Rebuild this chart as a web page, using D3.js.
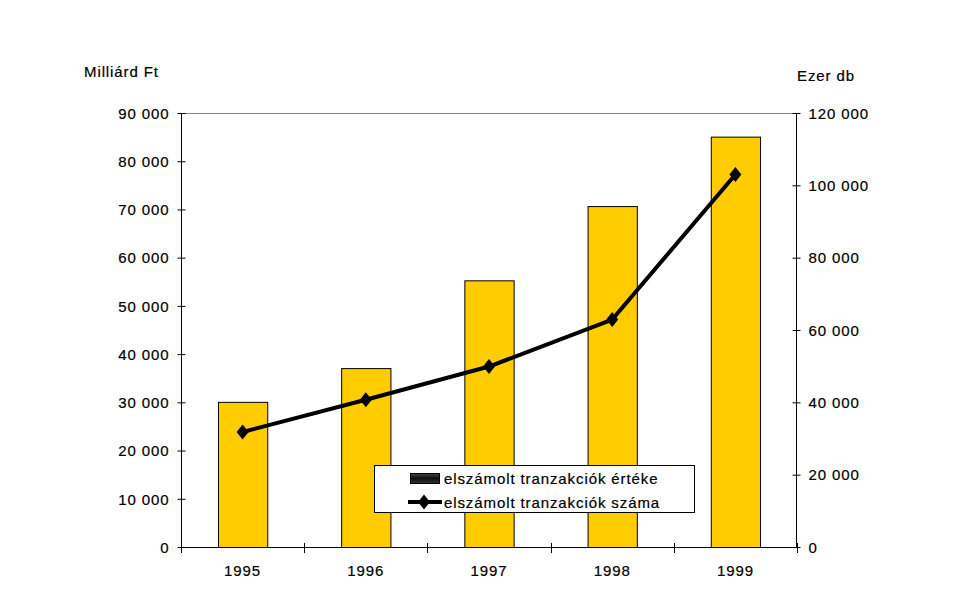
<!DOCTYPE html>
<html>
<head>
<meta charset="utf-8">
<title>Elszámolt tranzakciók</title>
<style>
  body { margin: 0; background: #fff; }
  svg text {
    font-family: "Liberation Sans", Arial, sans-serif; font-size: 15px; fill: #000;
    letter-spacing: 0.9px; stroke: #000; stroke-width: 0.2px;
  }
</style>
</head>
<body>
<svg id="chart"></svg>
<script src="https://cdn.jsdelivr.net/npm/d3@7/dist/d3.min.js"></script>
<script>
// data
var years = ["1995", "1996", "1997", "1998", "1999"];
var ertek = [30100, 37100, 55300, 70700, 85100];    // Milliárd Ft (bars, left axis)
var szama = [31800, 40700, 49900, 62900, 103000];   // Ezer db (line, right axis)
var leftTicks = [0, 10000, 20000, 30000, 40000, 50000, 60000, 70000, 80000, 90000];
var rightTicks = [0, 20000, 40000, 60000, 80000, 100000, 120000];
var legendLabels = ["elszámolt tranzakciók értéke", "elszámolt tranzakciók száma"];

var W = 977, H = 600;
var pLeft = 181, pRight = 797, pTop = 113, pBottom = 547;

var svg = d3.select("#chart").attr("width", W).attr("height", H);

var x = d3.scaleBand().domain(years).range([pLeft, pRight]).paddingInner(0.6).paddingOuter(0.3);
var band = d3.scaleBand().domain(years).range([pLeft, pRight]);
var yL = d3.scaleLinear().domain([0, 90000]).range([pBottom, pTop]);
var yR = d3.scaleLinear().domain([0, 120000]).range([pBottom, pTop]);

var fmt = function(v) { return d3.format(",")(v).replace(/,/g, " "); };

// top border of plot area
svg.append("line")
   .attr("x1", pLeft).attr("x2", pRight).attr("y1", pTop + 0.5).attr("y2", pTop + 0.5)
   .style("stroke", "#808080").style("stroke-width", 1);

// bars
svg.selectAll("rect.bar")
   .data(years)
   .enter().append("rect")
   .attr("class", "bar")
   .attr("x", function(d) { return x(d) + 0.5; })
   .attr("y", function(d, i) { return yL(ertek[i]) + 0.5; })
   .attr("width", x.bandwidth())
   .attr("height", function(d, i) { return pBottom - yL(ertek[i]); })
   .style("fill", "#FFCC00")
   .style("stroke", "#000")
   .style("stroke-width", 1);

// left axis
var axL = svg.append("g").attr("transform", "translate(" + (pLeft + 0.5) + ",0)")
   .call(d3.axisLeft(yL).tickValues(leftTicks).tickSize(4).tickPadding(8).tickFormat(fmt));
axL.select(".domain").remove();
axL.append("line").attr("y1", pTop).attr("y2", pBottom).style("stroke", "#000");
axL.selectAll(".tick line").attr("x1", 4).attr("x2", -4).style("stroke", "#000");
axL.selectAll(".tick text").style("font-size", "15px").attr("dy", "0.35em");

// right axis
var axR = svg.append("g").attr("transform", "translate(" + (pRight - 0.5) + ",0)")
   .call(d3.axisRight(yR).tickValues(rightTicks).tickSize(4).tickPadding(8).tickFormat(fmt));
axR.select(".domain").remove();
axR.append("line").attr("y1", pTop).attr("y2", pBottom).style("stroke", "#000");
axR.selectAll(".tick line").attr("x1", -4).attr("x2", 4).style("stroke", "#000");
axR.selectAll(".tick text").style("font-size", "15px").attr("dy", "0.35em");

// bottom axis: ticks at category boundaries, labels centred
svg.append("line").attr("x1", pLeft).attr("x2", pRight)
   .attr("y1", pBottom + 0.5).attr("y2", pBottom + 0.5).style("stroke", "#000");
var bounds = years.map(function(d) { return band(d); }).concat([pRight]);
svg.selectAll("line.xtick")
   .data(bounds)
   .enter().append("line")
   .attr("class", "xtick")
   .attr("x1", function(d) { return Math.round(d) + 0.5; })
   .attr("x2", function(d) { return Math.round(d) + 0.5; })
   .attr("y1", pBottom - 4).attr("y2", pBottom + 6)
   .style("stroke", "#000");
svg.selectAll("text.year")
   .data(years)
   .enter().append("text")
   .attr("class", "year")
   .attr("x", function(d) { return band(d) + band.bandwidth() / 2; })
   .attr("y", pBottom + 29)
   .attr("text-anchor", "middle")
   .text(function(d) { return d; });

// line series
var line = d3.line()
   .x(function(d, i) { return band(years[i]) + band.bandwidth() / 2; })
   .y(function(d) { return yR(d); });
svg.append("path")
   .datum(szama)
   .attr("d", line)
   .style("fill", "none")
   .style("stroke", "#000")
   .style("stroke-width", 4)
   .style("stroke-linejoin", "round");

// diamond marker, a bit taller than wide
var diamondType = {
  draw: function(ctx) {
    ctx.moveTo(0, -7.5); ctx.lineTo(6, 0); ctx.lineTo(0, 7.5); ctx.lineTo(-6, 0); ctx.closePath();
  }
};
var diamond = d3.symbol().type(diamondType);
svg.selectAll("path.mark")
   .data(szama)
   .enter().append("path")
   .attr("class", "mark")
   .attr("d", diamond)
   .attr("transform", function(d, i) {
      return "translate(" + (band(years[i]) + band.bandwidth() / 2) + "," + yR(d) + ")";
   })
   .style("fill", "#000");

// axis titles
svg.append("text").attr("x", 84).attr("y", 77).text("Milliárd Ft");
svg.append("text").attr("x", 797).attr("y", 81).text("Ezer db");

// legend
var lg = svg.append("g");
lg.append("rect")
  .attr("x", 374.5).attr("y", 465.5).attr("width", 320).attr("height", 47)
  .style("fill", "#fff").style("stroke", "#000");
var grad = svg.append("defs").append("linearGradient").attr("id", "sw")
  .attr("x1", 0).attr("y1", 0).attr("x2", 0).attr("y2", 1);
grad.append("stop").attr("offset", "0%").attr("stop-color", "#444");
grad.append("stop").attr("offset", "50%").attr("stop-color", "#111");
grad.append("stop").attr("offset", "100%").attr("stop-color", "#333");
lg.append("rect")
  .attr("x", 410.5).attr("y", 473.5).attr("width", 29).attr("height", 10)
  .style("fill", "url(#sw)").style("stroke", "#000");
lg.append("text").attr("x", 444).attr("y", 484).text(legendLabels[0]);
lg.append("line")
  .attr("x1", 408).attr("x2", 442).attr("y1", 502).attr("y2", 502)
  .style("stroke", "#000").style("stroke-width", 4);
lg.append("path").attr("d", diamond).attr("transform", "translate(424,502)").style("fill", "#000");
lg.append("text").attr("x", 444).attr("y", 508).text(legendLabels[1]);
</script>
</body>
</html>
